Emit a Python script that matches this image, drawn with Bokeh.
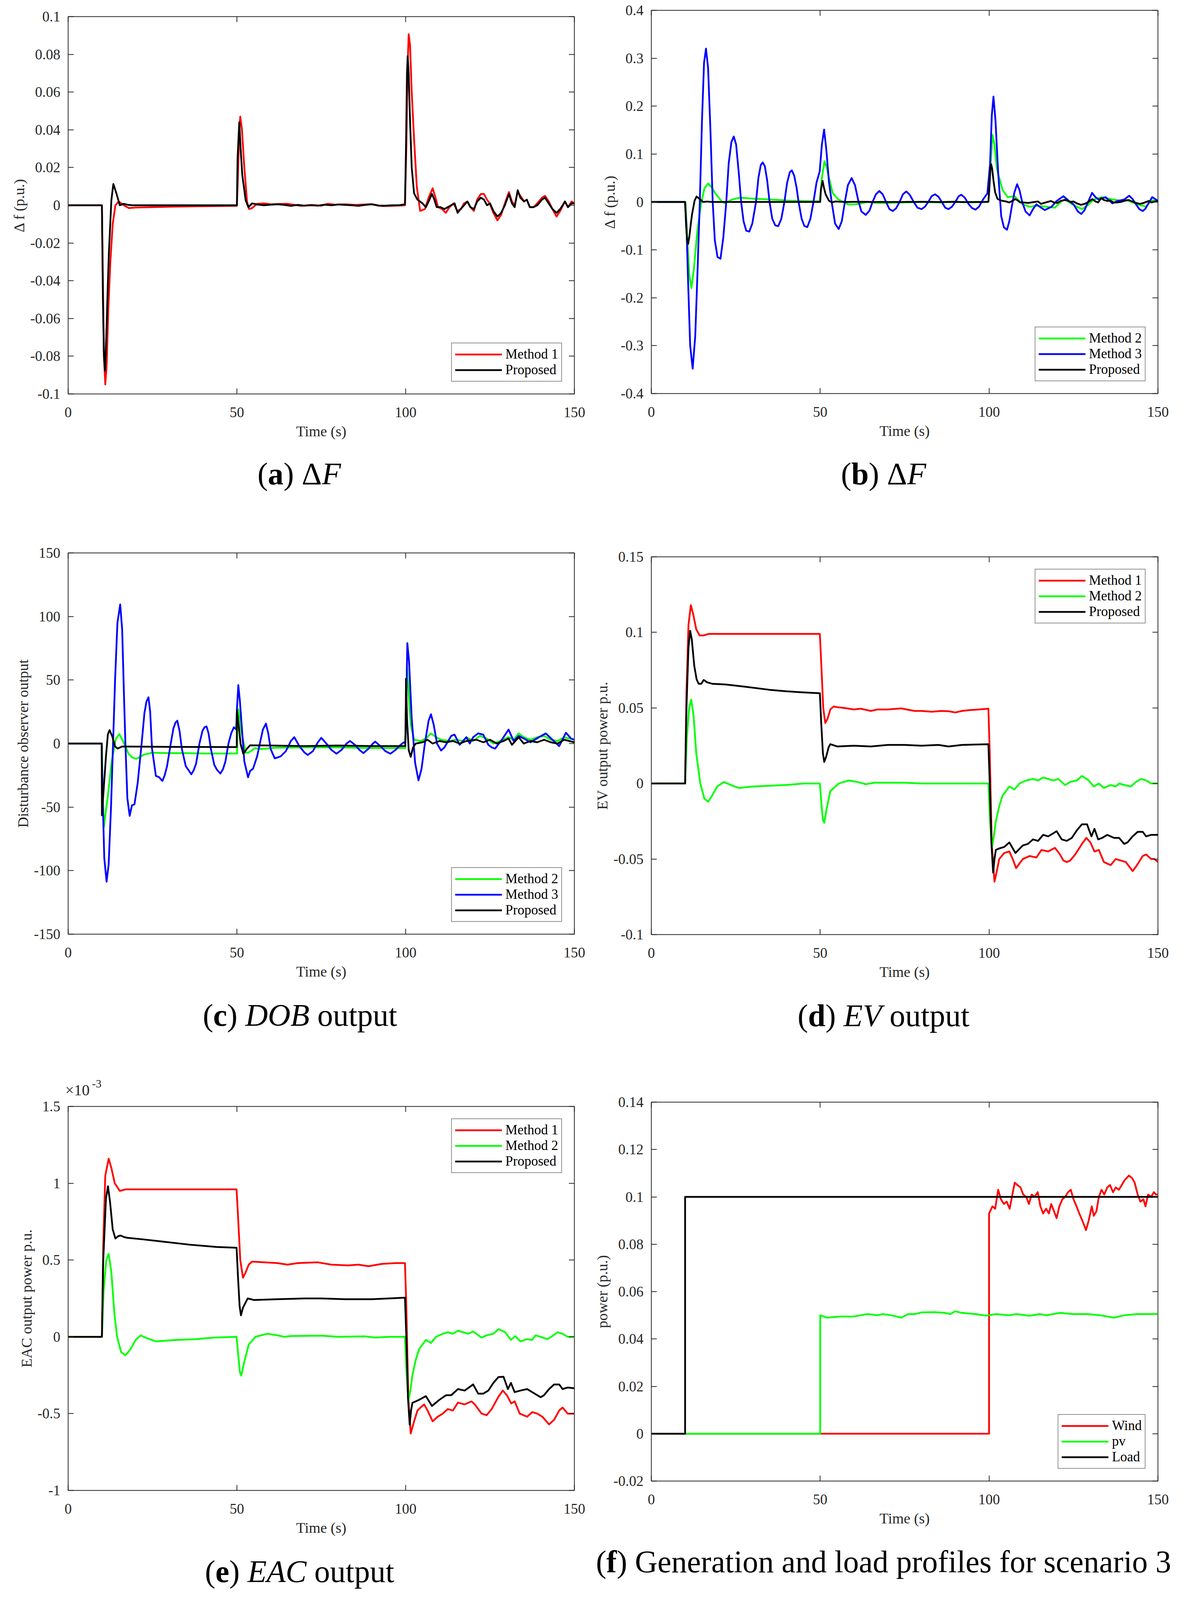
from bokeh.plotting import figure
from bokeh.models import Range1d, FixedTicker, CustomJSTickFormatter, LinearAxis, Div
from bokeh.layouts import column, row
from bokeh.embed import file_html
from bokeh.resources import INLINE

# ---------------------------------------------------------------- data
time_ticks = [0, 50, 100, 150]
time_labels = ["0", "50", "100", "150"]

df_ticks = [-0.1, -0.08, -0.06, -0.04, -0.02, 0, 0.02, 0.04, 0.06, 0.08, 0.1]
df_labels = ["-0.1", "-0.08", "-0.06", "-0.04", "-0.02", "0", "0.02", "0.04", "0.06", "0.08", "0.1"]
df2_ticks = [-0.4, -0.3, -0.2, -0.1, 0, 0.1, 0.2, 0.3, 0.4]
df2_labels = ["-0.4", "-0.3", "-0.2", "-0.1", "0", "0.1", "0.2", "0.3", "0.4"]
dob_ticks = [-150, -100, -50, 0, 50, 100, 150]
dob_labels = ["-150", "-100", "-50", "0", "50", "100", "150"]
ev_ticks = [-0.1, -0.05, 0, 0.05, 0.1, 0.15]
ev_labels = ["-0.1", "-0.05", "0", "0.05", "0.1", "0.15"]
eac_ticks = [-1, -0.5, 0, 0.5, 1, 1.5]          # x 10^-3
eac_labels = ["-1", "-0.5", "0", "0.5", "1", "1.5"]
pw_ticks = [-0.02, 0, 0.02, 0.04, 0.06, 0.08, 0.1, 0.12, 0.14]
pw_labels = ["-0.02", "0", "0.02", "0.04", "0.06", "0.08", "0.1", "0.12", "0.14"]

# (a) / (b) frequency deviation, p.u.
df_method1 = [(0,0),(10,0),(10.3,-0.04),(10.6,-0.08),(11.0,-0.095),(11.4,-0.085),(11.9,-0.055),(12.5,-0.03),
    (13.2,-0.01),(14.0,0.0),(15.0,0.002),(16.5,0.0),(18,-0.0015),(20,-0.0012),(30,-0.0008),(40,-0.0005),(50,-0.0003),
    (50.3,0.015),(50.7,0.04),(51.0,0.047),(51.5,0.04),(52.2,0.02),(53.0,0.002),(53.6,-0.002),(54.5,-0.0015),(56,0.0008),
    (58,0.001),(60,0.0005),(63,0.0007),(65,0.0008),(67,0.0002),(69,-0.0003),(72,0.0002),(75,-0.0002),(77,0.0008),
    (79,0.0003),(82,0.0005),(85,0.0002),(88,0.0004),(90,0.0006),(93,-0.0004),(96,-0.0003),(99.8,0.0),(100.2,0.03),
    (100.6,0.075),(100.9,0.0907),(101.3,0.085),(101.8,0.06),(102.5,0.035),(103.3,0.01),(104.3,-0.003),(105.7,-0.002),
    (106.8,0.004),(108,0.009),(108.7,0.005),(109.6,-0.001),(110.8,-0.002),(111.9,-0.004),(113,-0.001),(114.2,0.001),
    (115.3,-0.003),(116.4,-0.002),(117.3,0.001),(118.3,0.002),(119.2,-0.001),(120.2,-0.003),(121.2,0.003),(122.3,0.006),
    (123.2,0.006),(124.1,0.003),(124.9,0.001),(126,-0.004),(127.2,-0.008),(128.3,-0.005),(129.4,0.001),(130.6,0.007),
    (131.5,0.002),(132.3,0.0),(133.2,0.007),(134,0.005),(135.1,0.002),(135.9,0.003),(136.8,-0.001),(137.9,-0.001),
    (139,0.001),(140.4,0.004),(141.3,0.005),(142.4,0.002),(143.5,-0.002),(144.7,-0.006),(145.8,-0.003),(147.2,0.002),
    (148.1,-0.001),(149.2,0.002),(150,0.001)]
df_proposed = [(0,0),(10,0),(10.3,-0.05),(10.6,-0.08),(10.9,-0.0876),(11.3,-0.07),(11.7,-0.045),(12.05,-0.026),
    (12.8,0.0026),(13.39,0.0113),(14.35,0.006),(15.3,0.0),(16.5,0.0008),(17.5,0.0003),(19,0),(30,0),
    (40,0),(50,0),(50.2,0.025),(50.7,0.044),(51.1,0.03),(51.6,0.016),(52.6,0.0026),(53.4,-0.001),
    (54.5,0.001),(56,0.0004),(58,0.0),(60,0.0003),(62,0.0005),(64,0.0002),(66,-0.0003),(68,0.0002),(70,-0.0002),
    (72,0.0),(74,-0.0002),(76,0.0003),(78,0.0),(80,0.0004),(82,0.0002),(84,0.0),(86,-0.0003),(88,0.0002),(90,0.0005),
    (92,-0.0002),(94,-0.0002),(96,0.0),(98,0.0),(99.8,0.0005),(100.1,0.03),(100.4,0.07),(100.6,0.079),(100.9,0.07),
    (101.3,0.045),(101.8,0.02),(102.5,0.0063),(103.5,0.003),(105,0.001),(106,-0.001),(106.8,0.002),(107.8,0.006),
    (108.5,0.003),(109.2,-0.001),(110.3,-0.001),(111.5,-0.002),(112.5,-0.001),(113.5,0.0),(114.5,0.001),(115.4,-0.004),
    (116.3,-0.002),(117.3,0.0),(118.3,0.002),(119.2,-0.001),(120.2,-0.002),(121.2,0.002),(122.3,0.004),(123.2,0.003),
    (124.1,0.0),(125,0.001),(126,-0.003),(127.2,-0.006),(128.3,-0.004),(129.4,0.0),(130.6,0.006),(131.5,0.001),
    (132.3,-0.001),(133.2,0.008),(134,0.004),(135.1,0.002),(135.9,0.003),(136.8,-0.001),(137.9,-0.001),(139,0.0),
    (140.4,0.003),(141.3,0.004),(142.4,0.001),(143.5,-0.002),(144.7,-0.004),(145.8,-0.002),(147.2,0.002),
    (148.1,-0.001),(149.2,0.001),(150,0.001)]
df_method2 = [(0,0),(10.1,0),(10.6,-0.07),(11.2,-0.15),(11.86,-0.18),(12.6,-0.14),(13.6,-0.062),(14.7,-0.005),
    (15.7,0.028),(16.84,0.0387),(17.9,0.03),(18.94,0.018),(20.85,0.001),(21.8,-0.0026),(23.9,0.005),(26.2,0.009),
    (30,0.007),(35.4,0.005),(41.1,0.0026),(48.8,0.0015),(49.9,0.0015),(50.5,0.05),(51.27,0.085),(52.0,0.07),
    (52.6,0.05),(53.7,0.0186),(55.3,0.0057),(56.8,0.0),(58.3,-0.005),(60.3,-0.005),(61.4,-0.004),(64,0.0),
    (67,-0.002),(70,-0.002),(75,-0.001),(80,0.0),
    (85,-0.001),(90,0.0),(95,-0.001),(99.8,0.0),(100.3,0.06),(101,0.14),(101.6,0.12),(102.3,0.07),(103,0.05),
    (104,0.025),(105.5,0.01),(107.5,0.012),(108.5,0.005),(110,-0.005),(112,-0.01),(114,-0.008),(117,-0.01),
    (119.5,-0.012),(121.5,0.002),(122.5,0.005),(124,-0.002),(126,-0.01),(127.5,-0.015),(129,-0.008),(131,0.005),
    (133.5,0.01),(136,0.006),(138.5,0.003),(141,0.003),(144,-0.005),(146.5,-0.01),(148,0.003),(150,0.003)]
df_method3 = [(0,0),(9.95,0),(10.4,-0.05),(10.9,-0.17),(11.5,-0.3),(12.24,-0.348),(13.0,-0.28),(13.7,-0.14),
    (14.35,0.0),(15.0,0.17),(15.6,0.29),(16.18,0.32),(16.8,0.28),(17.5,0.15),(18.17,0.0),(18.8,-0.08),(19.6,-0.115),
    (20.47,-0.1186),(21.3,-0.075),(22.19,0.0),(22.9,0.08),(23.7,0.125),(24.41,0.1366),(25.1,0.12),(25.9,0.06),
    (26.59,0.0),(27.3,-0.04),(28.1,-0.06),(29.0,-0.0619),(29.9,-0.045),(30.99,0.0),(31.7,0.05),(32.4,0.077),
    (32.98,0.0825),(33.6,0.075),(34.3,0.045),(35.0,0.0),(35.8,-0.035),(36.7,-0.049),(37.57,-0.0505),(38.5,-0.035),
    (39.4,0.0),(40.2,0.04),(41.0,0.062),(41.58,0.066),(42.3,0.055),(43.0,0.03),(43.6,0.0),(44.5,-0.035),(45.3,-0.05),
    (46.18,-0.0526),(47.1,-0.035),(48.0,0.0),(48.9,0.04),(49.85,0.064),(50.5,0.12),(51.15,0.151),(51.8,0.11),
    (52.6,0.041),(53.4,0.0),(54.4,-0.045),(55.47,-0.0567),(56.4,-0.04),(57.3,0.0),(58.2,0.035),(59.3,0.05),
    (60.3,0.035),(61.2,0.005),(62.2,-0.02),(63.5,-0.027),(64.6,-0.018),(65.5,0.0),(66.5,0.016),(67.5,0.023),
    (68.5,0.016),(69.5,0.0),(70.5,-0.015),(71.5,-0.019),(72.5,-0.013),(73.5,0.0),(74.5,0.016),(75.5,0.022),
    (76.5,0.015),(77.7,0.0),(78.8,-0.012),(80,-0.015),(81,-0.01),(82,0.0),(83,0.012),(84,0.016),(85,0.011),(86,0.0),
    (87,-0.012),(88,-0.015),(89,-0.01),(90,0.0),(91,0.012),(91.8,0.015),(92.8,0.009),(94,-0.005),(95,-0.013),
    (96,-0.016),(97,-0.01),(98.2,0.005),(99.5,0.018),(100.3,0.08),(100.8,0.18),(101.3,0.22),(101.9,0.17),(102.7,0.06),
    (103.6,-0.03),(104.4,-0.053),(105.3,-0.058),(106,-0.04),(106.6,-0.015),(107.5,0.02),(108.3,0.037),(109,0.025),
    (109.8,0.0),(110.8,-0.02),(112,-0.028),(113,-0.015),(114,-0.005),(115,-0.01),(116.5,-0.017),(118.5,-0.01),
    (120,0.002),(122,0.012),(123.5,0.003),(125,-0.005),(126.3,-0.02),(127.3,-0.025),(128.2,-0.018),(129,-0.005),
    (130.5,0.019),(131.5,0.01),(132.5,0.005),(134.5,0.01),(136.5,-0.003),(138,0.002),(140,0.005),(141.5,0.013),
    (142.5,0.006),(143.5,-0.005),(144.5,-0.015),(145.5,-0.019),(146.3,-0.014),(147,-0.005),(148.3,0.01),
    (149.2,0.006),(150,0.002)]

# (c) disturbance observer output
dob_method2 = [(0,0),(10.0,0),(10.2,-40),(10.6,-65.8),(11.2,-52),(11.77,-41),(12.9,-14),(14.1,3.5),(15.15,7.4),
    (16.4,1.2),(17.9,-8),(19,-11),(20.2,-12),(21.3,-10.5),(22.5,-8.7),(24.9,-7.2),(30,-7.5),(35,-7.5),(40,-7.8),
    (45,-7.8),(50.05,-7.8),(50.2,20),(50.4,27),(50.9,18),(51.4,8.3),(52.6,-7.2),(53.4,-7.2),(55.3,-3.7),(57.5,-4.3),
    (61.4,-3.3),(70,-3),(80,-3),(90,-3.5),(99.9,-3.5),
    (100.1,30),(100.4,60),(100.9,40),(101.5,15),(102.5,3),(104.5,2),(106,4),(107.5,8),(109,5),(110.5,3),(113,2),
    (115,3),(117,2),(118,5),(120,2),(122,6),(124,4),(126,0),(128,2),(130.5,5),(132,3),(133.5,8),(135,5),(137,3),
    (139,5),(141,6),(143,3),(145,2),(147,5),(150,3)]
dob_method3 = [(0,0),(9.9,0),(10.3,-50),(10.7,-90),(11.38,-108.7),(12.0,-95),(12.7,-50),(13.3,0),(13.9,50),
    (14.6,95),(15.42,109.5),(16.0,90),(16.58,34),(16.96,0),(17.54,-43),(18.23,-56.9),(18.88,-48.7),(19.65,-47.8),
    (20.6,-31),(21.77,0),(22.6,24),(23.2,33),(23.8,36.4),(24.3,25),(24.85,-4),(26.0,-25.5),(26.96,-26.5),
    (27.92,-29.4),(28.6,-25),(29.3,-17.8),(30.4,0),(31.2,12),(31.8,16.5),(32.34,18),(33.0,10),(33.7,-4.3),
    (34.85,-17.8),(35.6,-20.7),(36.5,-24.2),(37.2,-21),(37.9,-15.9),(38.9,0),(39.8,10),(40.4,12.8),(41.0,13.5),
    (41.6,8),(42.3,-4.3),(43.3,-16.8),(44.1,-20.7),(45.1,-23.6),(45.9,-20),(46.6,-14),(47.5,0),(48.3,8),(49.1,12.8),
    (49.8,11.2),(50.0,26.7),(50.42,46),(50.9,33),(51.4,15),(52.2,-14),(53.3,-26.5),(53.9,-21.7),(54.8,-19.7),
    (56,-10),(56.8,0),(57.7,11),(58.6,15.7),(59.3,8),(60.0,-4.3),(61.2,-11.6),(62,-11),(63,-10),(64.5,-6),(66,2),
    (67,5),(68.5,-2),(70,-7),(71,-9),(72.5,-6),(74,1),(75,4.5),
    (76.5,0),(78,-5),(79.5,-8),(81,-5),(82.5,0),(83.5,2),(85,-1),(86.3,-5),(87.5,-7.5),(89,-4),(90.3,0),(91,1.5),
    (92.5,-2),(94,-6),(95.5,-8),(97,-5),(98.5,-1),(99.5,1),(99.9,0),(100.1,20),(100.5,79),(101,65),(101.8,20),
    (102.8,-15),(103.8,-29),(104.7,-20),(105.7,0),(106.8,18),(107.5,23),(108.3,15),(109.3,0),(110.5,-5.5),(111.5,-3),
    (113.5,6),(114.5,7),(116,-1),(118,5),(119,0),(120,5),(121.5,8),(123,7),(124.5,-1),(125.5,-3),(126.5,-4),
    (128.5,3),(130.5,11),(132,2),(133.5,6),(135,4),(137,1),(139.5,5),(141.5,8),(143.5,3),(145.5,-2),(147.5,8.5),
    (149,4),(150,3)]
dob_proposed = [(0,0),(9.95,0),(10.0,-56.5),(10.6,-33),(11.2,-10),(11.77,7.3),(12.27,10.6),(13.1,5.4),(13.9,-2.3),
    (14.65,-3.9),(16,-2.3),(30,-2.6),(40,-2.7),(49.95,-2.8),(50.0,25.7),(50.5,15),(51.1,-0.4),(51.9,-8.1),(52.9,-4.3),
    (53.9,-1.4),(60,-1.5),(70,-2),(80,-1.5),(90,-2),(99.9,-2),(100.05,30),(100.1,51),(100.4,20),
    (100.9,-5),(101.5,-10.5),(102.2,-3),(103,0),(105,1),(106.5,3),(108,0),(110,2),(112,1),(114,2),(116,0),(118,2),
    (121,3),(123,1),(125,3),(127,0),(129,2),(130.5,4),(131.5,-1),(133.5,5),(135,0),(137,2),(139,1),(141,3),(143,1),
    (145,0),(147,3),(150,1)]

# (d) EV output power, p.u.
ev_method1 = [(0,0),(10,0),(10.4,0.06),(11,0.105),(11.7,0.118),(12.4,0.112),(13.3,0.102),(14.3,0.098),(15.5,0.098),
    (17,0.099),(30,0.099),(40,0.099),(49.9,0.099),(50.3,0.08),(50.9,0.05),(51.5,0.04),(52.2,0.043),(53,0.049),
    (54,0.051),(55,0.0505),(57,0.05),(60,0.049),(62,0.0495),(65,0.048),(67,0.049),(70,0.049),(74,0.0497),(76,0.0488),
    (78,0.048),(80,0.048),(83,0.0475),(86,0.048),(88,0.0478),(90,0.047),(92,0.048),(94,0.0485),(97,0.049),
    (99.8,0.0495),(100.2,0.02),(100.8,-0.04),(101.6,-0.065),(102.3,-0.058),(103,-0.05),(104.5,-0.046),(106,-0.045),
    (107,-0.05),(108,-0.056),(109,-0.053),(110,-0.05),(112,-0.048),(114,-0.049),(115.5,-0.044),(117.5,-0.045),
    (119.5,-0.0426),(121,-0.047),(122,-0.051),(123,-0.052),(124,-0.051),(125.5,-0.047),(127.5,-0.04),(128.8,-0.036),
    (130,-0.039),(131.2,-0.045),(132.5,-0.044),(134,-0.052),(136,-0.054),(137.5,-0.05),(139,-0.051),(140.5,-0.052),
    (142.5,-0.058),(143.5,-0.055),(145.5,-0.048),(146.5,-0.047),(148,-0.05),(149,-0.05),(150,-0.052)]
ev_method2 = [(0,0),(10,0),(10.5,0.03),(11.2,0.05),(11.8,0.0555),(12.5,0.045),(13.3,0.02),(14.5,0.0),(15.7,-0.01),
    (16.8,-0.012),(18,-0.008),(19.5,-0.002),(21.5,0.001),(23.5,-0.001),(26,-0.003),(30,-0.002),(35,-0.0015),
    (40,-0.001),(45,0.0),(49.9,0.0),(50.3,-0.012),(50.8,-0.024),(51.2,-0.026),(51.8,-0.018),(53,-0.005),(55.5,0.0),
    (58.5,0.002),(61,0.001),(63.5,-0.0005),(66,0.0005),(75,0.0005),(80,0.0),(90,0.0),(99.8,0.0),(100.3,-0.025),
    (100.8,-0.043),(101.4,-0.035),(102,-0.025),(103,-0.015),(104,-0.008),(106,-0.002),(107.5,-0.004),(109,0.0),
    (111,0.002),(113,0.003),(114.5,0.002),(116,0.004),(117.5,0.003),(119,0.002),(120.5,0.003),(122.5,-0.001),
    (124,0.001),(126,0.002),(127.5,0.005),(129.5,0.002),(131,-0.002),(132.5,0.0),(134,-0.003),(136,-0.001),
    (137.5,-0.002),(138.5,0.0),(140,-0.001),(142,-0.002),(143.5,0.001),(145,0.003),(146.5,0.002),(148,0.0),(150,0.0)]
ev_proposed = [(0,0),(10,0),(10.4,0.05),(11,0.09),(11.5,0.101),(12,0.095),(12.7,0.078),(13.4,0.069),(14,0.066),
    (14.8,0.066),(15.5,0.0685),(16.5,0.067),(18,0.066),(22,0.0655),(28,0.064),(35,0.062),(40,0.061),(45,0.0603),
    (49.9,0.0597),(50.3,0.04),(50.8,0.02),(51.2,0.0142),(51.8,0.018),(52.5,0.024),(53,0.026),(55,0.0245),(60,0.025),
    (65,0.0245),(70,0.0255),(75,0.0255),(80,0.025),(85,0.0255),(88,0.0245),(92,0.0255),(96,0.0258),(99.8,0.026),
    (100.2,0.0),(100.7,-0.04),(101.2,-0.059),(101.6,-0.05),(102,-0.044),(103,-0.043),(104.5,-0.042),(106,-0.039),
    (107.8,-0.046),(110,-0.041),(111.5,-0.04),(113,-0.037),(114.5,-0.038),(116,-0.034),(117.5,-0.035),(119,-0.033),
    (120,-0.0316),(121.5,-0.037),(123,-0.038),(124.5,-0.036),(126,-0.031),(127.5,-0.027),(129,-0.027),(130.3,-0.035),
    (131.2,-0.03),(132.3,-0.037),(133.5,-0.036),(135,-0.034),(137,-0.036),(138.5,-0.036),(140,-0.04),(141,-0.039),
    (142.5,-0.035),(144,-0.032),(145.5,-0.032),(146.5,-0.035),(148,-0.034),(150,-0.034)]

# (e) EAC output power, p.u. x 10^-3
eac_method1 = [(0,0),(10,0),(10.4,0.6),(11,1.05),(12,1.16),(12.8,1.1),(13.8,1.0),(15.3,0.95),(17,0.96),(30,0.96),
    (40,0.96),(49.9,0.96),(50.3,0.8),(51,0.5),(51.8,0.385),(52.6,0.42),(53.5,0.47),(54.5,0.49),(58,0.485),(62,0.48),
    (65,0.47),(68,0.48),(74,0.485),(78,0.47),(83,0.465),(86,0.47),(89,0.46),(93,0.475),(97,0.48),(99.8,0.48),
    (100.2,0.2),(100.8,-0.4),(101.5,-0.63),(102.5,-0.55),(103.5,-0.48),(104.5,-0.458),(105.5,-0.44),(106.5,-0.48),
    (108,-0.55),(109.5,-0.52),(111,-0.5),(112.5,-0.47),(114,-0.48),(115.5,-0.428),(117.5,-0.44),(119.5,-0.42),
    (120.5,-0.44),(122.5,-0.5),(124,-0.51),(125.5,-0.47),(127.5,-0.39),(128.8,-0.35),(130,-0.38),(131.3,-0.434),
    (132.3,-0.42),(133.8,-0.5),(136,-0.52),(137.5,-0.49),(139,-0.5),(140.5,-0.52),(142.5,-0.57),(144,-0.54),
    (145.5,-0.48),(146.5,-0.46),(148,-0.5),(150,-0.5)]
eac_method2 = [(0,0),(10,0),(10.5,0.3),(11.3,0.5),(12,0.541),(12.8,0.42),(13.7,0.15),(14.5,0.0),(15.7,-0.1),
    (17,-0.12),(18.5,-0.08),(20,-0.02),(21.5,0.009),(23.5,-0.01),(26,-0.03),(32,-0.02),(38,-0.015),(43,-0.005),
    (49.9,0.0),(50.4,-0.12),(50.9,-0.23),(51.3,-0.253),(52,-0.18),(53.5,-0.05),(55.5,0.0),(59,0.02),(62,0.01),
    (64,0.0),(66,0.005),(75,0.008),(80,0.0),(88,0.003),(91,-0.005),(95,0.0),(99.8,0.0),(100.3,-0.25),(100.8,-0.419),
    (101.4,-0.35),(102,-0.25),(103,-0.15),(104,-0.08),(106,-0.02),(107.5,-0.04),(109,0.0),(111,0.02),(112.5,0.03),
    (114,0.02),(115.5,0.04),(117,0.03),(118.5,0.02),(120,0.035),(122.5,-0.005),(124,0.01),(126,0.02),(127.5,0.05),
    (129.5,0.03),(131.2,-0.02),(132.5,0.005),(134,-0.03),(136,-0.015),(137.5,-0.02),(138.5,0.01),(140,0.0),
    (142,-0.015),(143.5,0.005),(145,0.03),(146.5,0.02),(148,0.0),(150,0.0)]
eac_proposed = [(0,0),(10,0),(10.4,0.5),(11.2,0.9),(11.8,0.98),(12.4,0.88),(13.2,0.7),(14,0.64),(14.8,0.655),
    (15.5,0.66),(16.5,0.65),(17.5,0.645),(22,0.635),(28,0.62),(36,0.6),(44,0.585),(49.9,0.58),(50.3,0.4),(50.8,0.2),
    (51.2,0.14),(51.8,0.19),(53.2,0.25),(55,0.24),(62,0.245),(70,0.25),(75,0.25),(82,0.245),(90,0.245),(95,0.25),
    (99.8,0.255),(100.2,0.0),(100.7,-0.4),(101.2,-0.572),(101.6,-0.48),(102,-0.43),(104,-0.41),(106,-0.386),
    (107.8,-0.45),(110,-0.41),(112,-0.38),(113.5,-0.38),(115.5,-0.34),(117.5,-0.35),(120,-0.31),(121.5,-0.37),
    (123,-0.37),(124.5,-0.35),(126,-0.3),(127.5,-0.262),(129,-0.26),(130.3,-0.34),(131.2,-0.3),(132.3,-0.36),
    (134,-0.35),(136,-0.34),(137.5,-0.36),(140,-0.393),(141,-0.38),(142.5,-0.34),(144,-0.31),(145.5,-0.31),
    (146.5,-0.34),(148,-0.33),(150,-0.335)]

# (f) generation and load profiles, p.u.
wind_profile = [(0,0),(100,0),(100,0.093),(101,0.096),(101.8,0.095),(102.7,0.103),(103.5,0.099),(104.4,0.097),
    (105.2,0.098),(106.1,0.095),(106.9,0.101),(107.6,0.106),(108.4,0.105),(109.3,0.104),(110.1,0.101),(111,0.1),
    (111.8,0.097),(112.6,0.101),(113.5,0.1),(114.4,0.102),(115.2,0.096),(116,0.093),(116.9,0.095),(117.7,0.093),
    (118.4,0.097),(119.2,0.094),(120,0.091),(120.8,0.096),(121.7,0.099),(122.5,0.1),(123.4,0.102),(124.2,0.103),
    (125,0.099),(125.9,0.096),(126.7,0.093),(127.6,0.09),(128.7,0.086),(129.5,0.09),(130.4,0.096),(131,0.092),
    (131.8,0.094),(132.5,0.1),(133.3,0.103),(134.1,0.101),(135,0.104),(135.8,0.105),(136.7,0.102),(137.5,0.104),
    (138.4,0.103),(139.3,0.105),(140.1,0.107),(141.4,0.109),(142.3,0.108),(143.1,0.106),(144,0.101),(144.8,0.098),
    (145.7,0.099),(146.3,0.096),(147.1,0.101),(148,0.1),(148.8,0.102),(149.4,0.101),(150,0.101)]
pv_profile = [(0,0),(50,0),(50,0.05),(52,0.049),(56,0.0495),(60,0.0495),(64,0.0505),(67,0.050),(68.5,0.0505),
    (71,0.050),(74,0.049),(76,0.0505),(78,0.0505),(80,0.0512),(84,0.0513),(87,0.051),(88.5,0.0505),(90,0.0517),
    (92,0.051),(96,0.0505),(99,0.0498),(100,0.050),(102,0.0505),(106,0.050),(108,0.0505),(112,0.0498),(115,0.0505),
    (117,0.050),(121,0.051),(125,0.0505),(129,0.0505),(133,0.050),(137,0.049),(140,0.050),(144,0.0505),(148,0.0505),
    (150,0.0505)]
load_profile = [(0,0),(10,0),(10,0.1),(150,0.1)]

# ---------------------------------------------------------------- style
RED, GREEN, BLUE, BLACK = "#ff0000", "#00ff00", "#0000ff", "#000000"
AXC = "#262626"
SERIF = "Liberation Serif"
LW = 4.5


def tick_fmt(vals, labs):
    return CustomJSTickFormatter(args=dict(vals=list(vals), labs=list(labs)), code="""
let b = 0;
for (let i = 0; i < vals.length; i++) { if (Math.abs(vals[i] - tick) < Math.abs(vals[b] - tick)) b = i; }
return labs[b];""")


def base_axis(ax, ticks, labels, standoff, lab_standoff, label=None):
    ax.ticker = FixedTicker(ticks=ticks)
    ax.formatter = tick_fmt(ticks, labels)
    ax.major_tick_in = 14
    ax.major_tick_out = 0
    ax.minor_tick_line_color = None
    ax.major_tick_line_color = AXC
    ax.major_tick_line_width = 2
    ax.axis_line_color = None
    ax.major_label_text_font = SERIF
    ax.major_label_text_font_size = "37px"
    ax.major_label_text_color = AXC
    ax.major_label_standoff = standoff
    if label is not None:
        ax.axis_label = label
        ax.axis_label_text_font = SERIF
        ax.axis_label_text_font_size = "38px"
        ax.axis_label_text_font_style = "normal"
        ax.axis_label_text_color = AXC
        ax.axis_label_standoff = lab_standoff


def mirror_axis(p, ticks, side):
    ax = LinearAxis(ticker=FixedTicker(ticks=ticks), formatter=CustomJSTickFormatter(code="return ''"),
                    major_tick_in=14, major_tick_out=0, minor_tick_line_color=None,
                    major_tick_line_color=AXC, major_tick_line_width=2, axis_line_color=None,
                    major_label_text_font_size="1px", major_label_text_color=None, major_label_standoff=0)
    p.add_layout(ax, side)


def panel(cfg, series, yticks, ylabels, ylabel, legend_loc):
    p = figure(width=1514, height=cfg["h"], min_border_left=cfg["l"], min_border_right=cfg["r"],
               min_border_top=cfg["t"], min_border_bottom=cfg["b"], x_range=Range1d(0, 150),
               y_range=Range1d(yticks[0], yticks[-1]), output_backend="svg", toolbar_location=None)
    p.xgrid.visible = False
    p.ygrid.visible = False
    p.outline_line_color = AXC
    p.outline_line_width = 2
    p.outline_line_alpha = 1
    p.background_fill_color = "white"
    p.border_fill_color = "white"
    base_axis(p.xaxis[0], time_ticks, time_labels, 34, 12, "Time (s)")
    base_axis(p.yaxis[0], yticks, ylabels, 20, 4, ylabel)
    mirror_axis(p, time_ticks, "above")
    mirror_axis(p, yticks, "right")
    for data, color, name in series:
        p.line([d[0] for d in data], [d[1] for d in data], color=color, line_width=LW,
               line_join="round", legend_label=name)
    lg = p.legend[0]
    lg.location = legend_loc
    lg.margin = 31
    lg.padding = 8
    lg.spacing = 0
    lg.glyph_width = 120
    lg.glyph_height = 40
    lg.label_height = 40
    lg.label_standoff = 9
    lg.label_text_font = SERIF
    lg.label_text_font_size = "35px"
    lg.label_text_color = "black"
    lg.border_line_color = AXC
    lg.border_line_width = 2
    lg.background_fill_color = "white"
    lg.background_fill_alpha = 1
    return p


def caption(height, html, cx, top, extra=""):
    half = min(cx, 1514 - cx) - 2
    block = (f'<div style="width:{2 * half}px;margin:0 0 0 {cx - half}px;text-align:center;padding-top:{top}px;'
             f"font-family:'{SERIF}',serif;font-size:80px;line-height:80px;white-space:nowrap;"
             f'color:#000;">{html}</div>{extra}')
    return Div(text=block, width=1514, height=height, margin=(0, 0, 0, 0),
               styles={"overflow": "visible"})


# panel geometry (pixels); the page is kept a little shorter than the window
LAY = {
    "a": dict(h=1156, l=174, r=44, t=42, b=148),
    "b": dict(h=1155, l=153, r=64, t=26, b=148),
    "c": dict(h=1185, l=174, r=44, t=69, b=140),
    "d": dict(h=1186, l=153, r=64, t=79, b=140),
    "e": dict(h=1145, l=174, r=44, t=22, b=140),
    "f": dict(h=1132, l=153, r=64, t=22, b=140),
}

pa = panel(LAY["a"], [(df_method1, RED, "Method 1"), (df_proposed, BLACK, "Proposed")],
           df_ticks, df_labels, "Δ f (p.u.)", "bottom_right")
pb = panel(LAY["b"], [(df_method2, GREEN, "Method 2"), (df_method3, BLUE, "Method 3"), (df_proposed, BLACK, "Proposed")],
           df2_ticks, df2_labels, "Δ f (p.u.)", "bottom_right")
pc = panel(LAY["c"], [(dob_method2, GREEN, "Method 2"), (dob_method3, BLUE, "Method 3"), (dob_proposed, BLACK, "Proposed")],
           dob_ticks, dob_labels, "Disturbance observer output", "bottom_right")
pd_ = panel(LAY["d"], [(ev_method1, RED, "Method 1"), (ev_method2, GREEN, "Method 2"), (ev_proposed, BLACK, "Proposed")],
            ev_ticks, ev_labels, "EV output power p.u.", "top_right")
pe = panel(LAY["e"], [(eac_method1, RED, "Method 1"), (eac_method2, GREEN, "Method 2"), (eac_proposed, BLACK, "Proposed")],
           eac_ticks, eac_labels, "EAC output power p.u.", "top_right")
pf = panel(LAY["f"], [(wind_profile, RED, "Wind"), (pv_profile, GREEN, "pv"), (load_profile, BLACK, "Load")],
           pw_ticks, pw_labels, "power (p.u.)", "bottom_right")

# exponent marker of panel (e), placed just above that panel
exp_e = (f'<div style="margin:132px 0 0 167px;width:200px;font-family:\'{SERIF}\',serif;font-size:40px;'
         f'line-height:40px;color:{AXC};white-space:nowrap;">×10<span style="font-size:29px;position:relative;'
         f'top:-20px;margin-left:6px;">-3</span></div>')

cap_a = caption(190, "(<b>a</b>) Δ<i>F</i>", 766, 17)
cap_b = caption(191, "(<b>b</b>) Δ<i>F</i>", 748, 18)
cap_c = caption(279, "(<b>c</b>) <i>DOB</i> output", 768, 28, exp_e)
cap_d = caption(267, "(<b>d</b>) <i>EV</i> output", 748, 28)
cap_e = caption(127, "(<b>e</b>) <i>EAC</i> output", 767, 28)
cap_f = caption(151, "(<b>f</b>) Generation and load profiles for scenario 3", 748, 27)

left = column(pa, cap_a, pc, cap_c, pe, cap_e)
right = column(pb, cap_b, pd_, cap_d, pf, cap_f)
layout = row(left, right)
open("out.html", "w").write(file_html(layout, INLINE, "figure"))
